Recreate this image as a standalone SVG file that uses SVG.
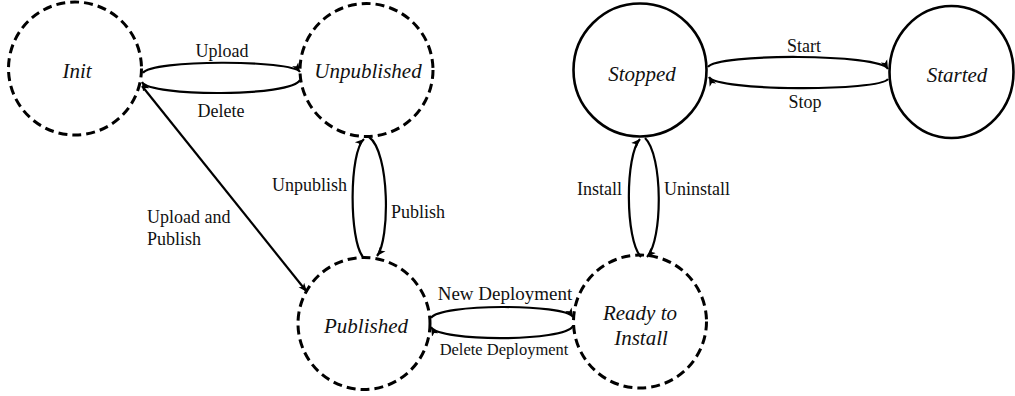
<svg xmlns="http://www.w3.org/2000/svg" width="1015" height="396" viewBox="0 0 1015 396">
<style>
.n{fill:none;stroke:#000;stroke-width:3;stroke-dasharray:9 5}
.s{fill:none;stroke:#000;stroke-width:2.6}
.nl{font-family:"Liberation Serif","Times New Roman",serif;font-style:italic;font-size:21px;fill:#111;text-anchor:middle}
.el{font-family:"Liberation Serif","Times New Roman",serif;font-size:18px;fill:#111}
.c{text-anchor:middle}
.e{fill:none;stroke:#000;stroke-width:2.2;marker-end:url(#arr)}
</style>
<defs>
<marker id="arr" viewBox="0 0 10 10" refX="10" refY="5" markerWidth="9" markerHeight="9" markerUnits="userSpaceOnUse" orient="auto">
<path d="M0,1 L10,5 L0,9 L2.5,5 z" fill="#000"/>
</marker>
</defs>
<rect width="1015" height="396" fill="#fff"/>
<g id="connectors">
<path class="e" d="M143,73 C151,59.5 292,59.5 300,72"/>
<path class="e" d="M300,80 C292,97 150,97 142,82"/>
<path class="e" d="M142,86 L307,292"/>
<path class="e" d="M363,257 C349,240 349,152 364,139"/>
<path class="e" d="M369,137 C390,152 390,240 377,256"/>
<path class="e" d="M431,318 C439,303.5 565,303.5 573,317"/>
<path class="e" d="M573,326 C565,342 439,342 431,327"/>
<path class="e" d="M641,257 C625,240 625,155 640,139"/>
<path class="e" d="M645,138 C663,155 663,240 647,257"/>
<path class="e" d="M708,67 C716,53.3 880,53.3 888,69"/>
<path class="e" d="M888,79 C880,91.5 716,91.5 709,77"/>
<text class="el c" x="222" y="57">Upload</text>
<text class="el c" x="221" y="117">Delete</text>
<text class="el" x="147" y="223">Upload and</text>
<text class="el" x="147" y="245">Publish</text>
<text class="el" x="272" y="191">Unpublish</text>
<text class="el" x="391" y="218">Publish</text>
<text class="el c" x="505" y="300" style="font-size:19px">New Deployment</text>
<text class="el c" x="504" y="355" style="font-size:16.5px">Delete Deployment</text>
<text class="el" x="577" y="195">Install</text>
<text class="el" x="664" y="195">Uninstall</text>
<text class="el c" x="804" y="52">Start</text>
<text class="el c" x="805" y="108">Stop</text>
</g>
<g id="init">
<circle class="n" cx="75" cy="68.5" r="66.5"/>
<text class="nl" x="77" y="78">Init</text>
</g>
<g id="unpublished">
<circle class="n" cx="366.5" cy="70" r="66.5"/>
<text class="nl" x="368" y="78">Unpublished</text>
</g>
<g id="published">
<circle class="n" cx="364" cy="323.5" r="66"/>
<text class="nl" x="366" y="333">Published</text>
</g>
<g id="ready">
<circle class="n" cx="640" cy="321.5" r="66.5"/>
<text class="nl" x="640" y="320">Ready to</text>
<text class="nl" x="641" y="345">Install</text>
</g>
<g id="stopped">
<circle class="s" cx="640" cy="70" r="66.5"/>
<text class="nl" x="642" y="81">Stopped</text>
</g>
<g id="started">
<ellipse class="s" cx="951.5" cy="72" rx="62" ry="66"/>
<text class="nl" x="957" y="82">Started</text>
</g>
</svg>
